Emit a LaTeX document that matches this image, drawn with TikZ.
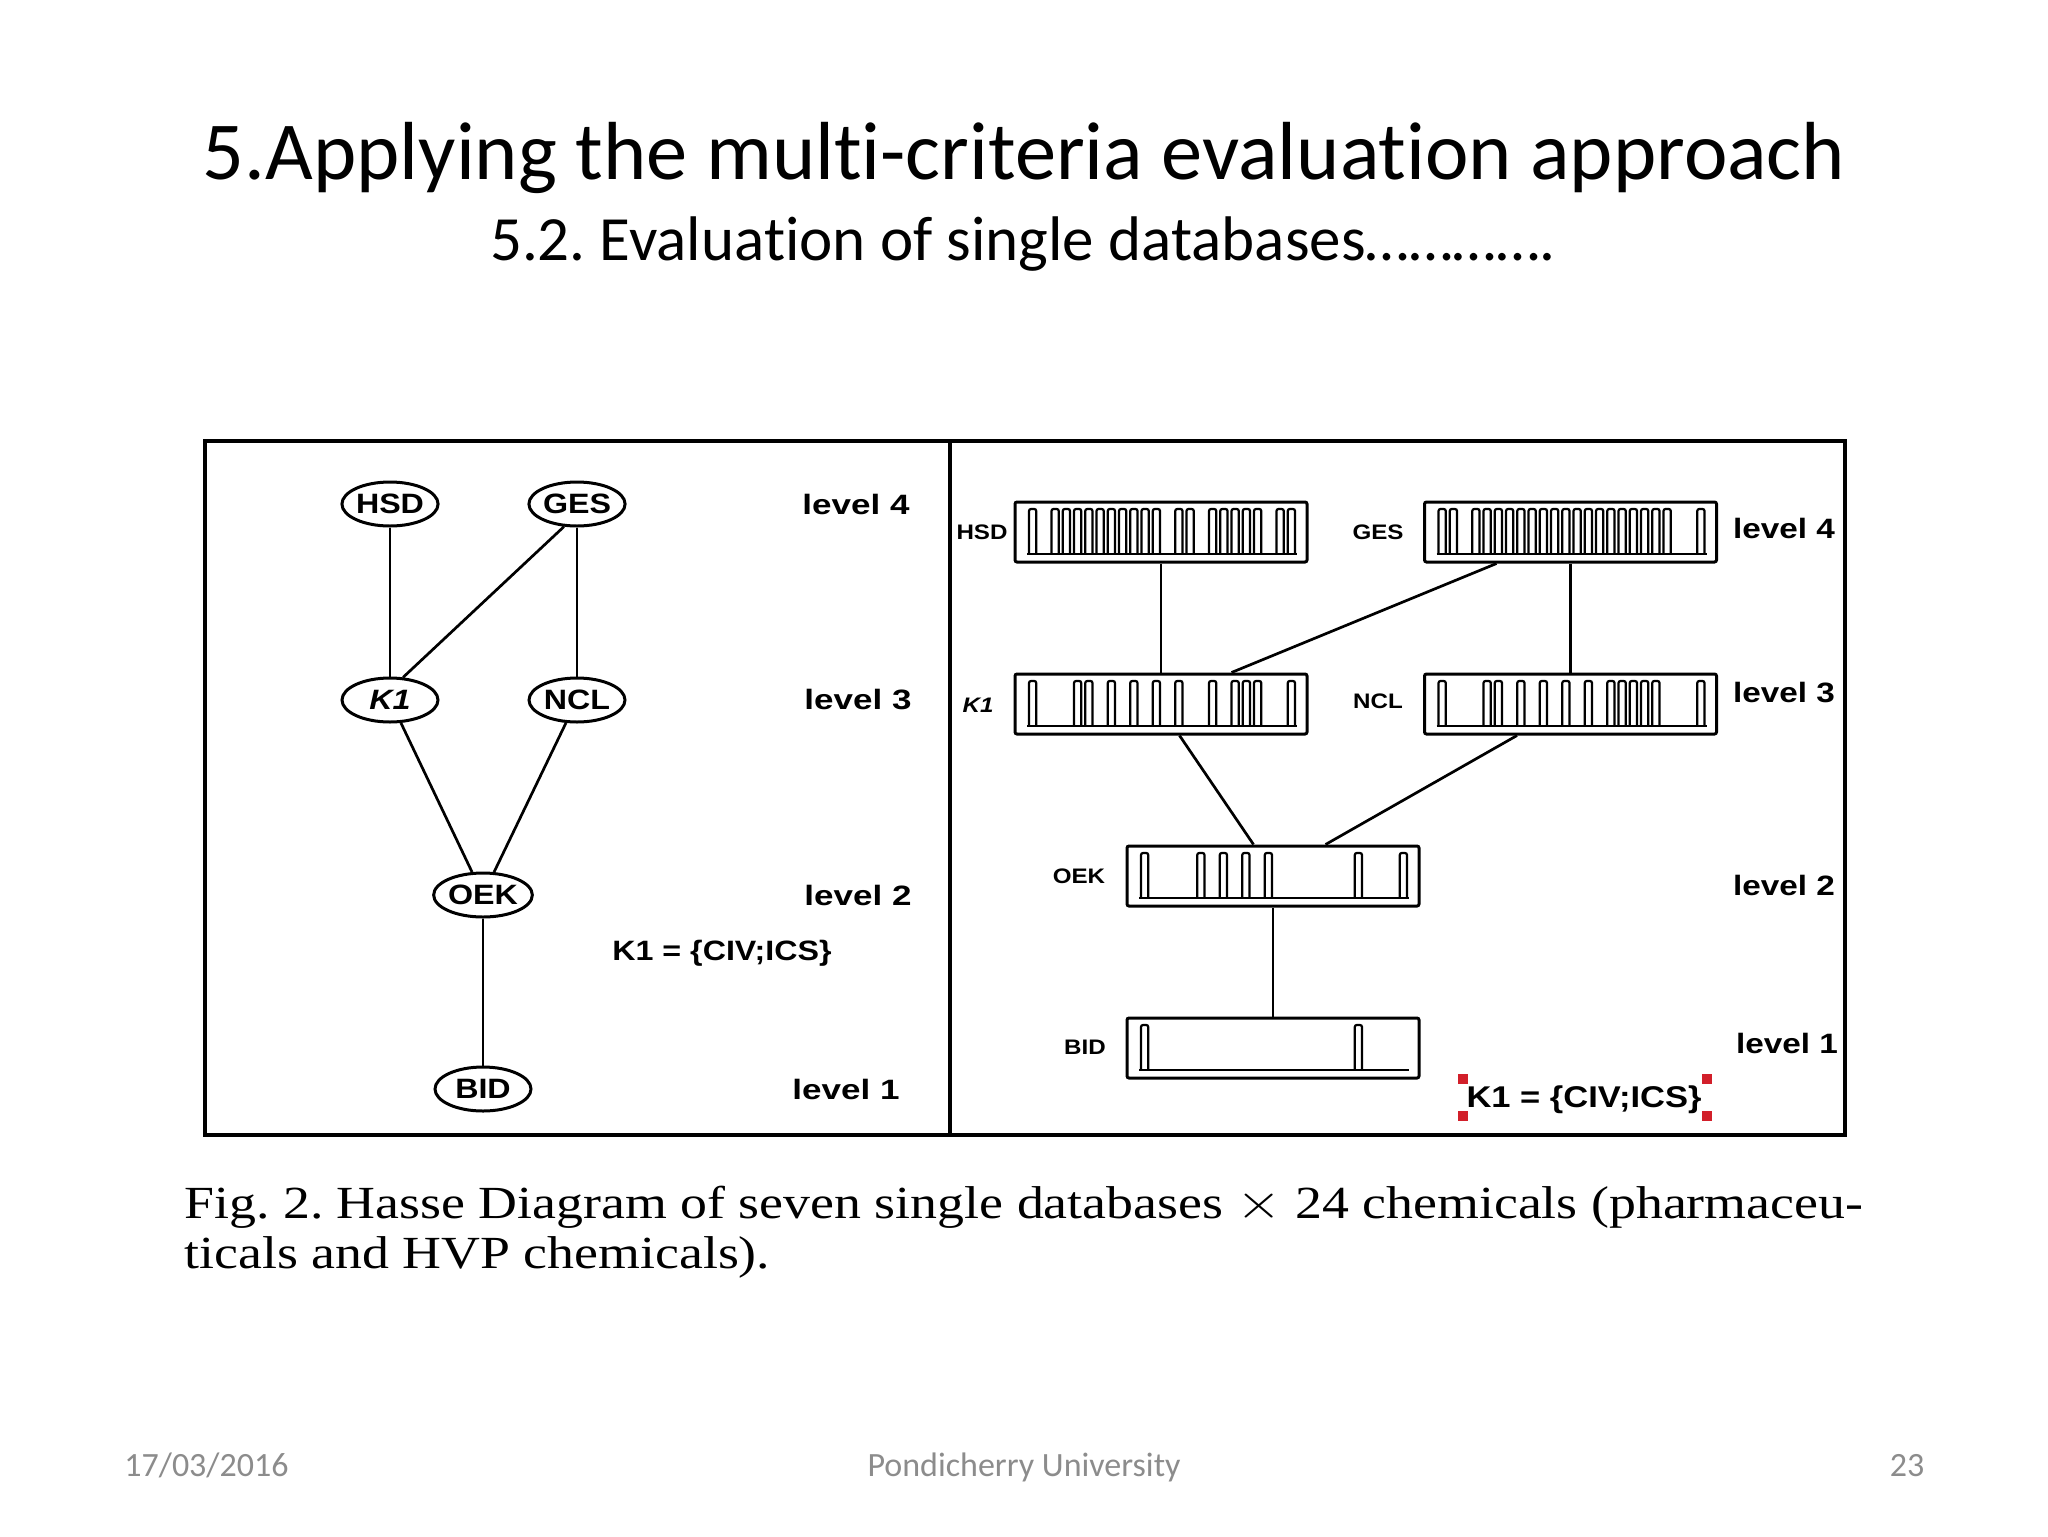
\documentclass[tikz,border=0pt]{standalone}
\usepackage{fontspec}
\setmainfont{Carlito}[Ligatures=NoCommon]
\newfontfamily\hvf{Liberation Sans}
\newfontfamily\tmf{Liberation Serif}
\usetikzlibrary{shapes.geometric}
\definecolor{footgray}{HTML}{8C8C8C}
\definecolor{handred}{HTML}{D21F2A}
\frenchspacing
\newcommand{\dbprofile}[3]{%
  \draw[profl] (#1+12,#2+52) -- (#1+282,#2+52);
  \foreach \v [count=\i from 0] in {#3}{%
    \ifnum\v=1
      \draw[profl,rounded corners=1pt] ({#1+12+\i*11.25+2},{#2+52}) -- ({#1+12+\i*11.25+2},{#2+7}) -- ({#1+12+(\i+1)*11.25-2},{#2+7}) -- ({#1+12+(\i+1)*11.25-2},{#2+52});
    \fi}}
\newcommand{\widetxt}[1]{\scalebox{1.15}[1]{#1}}
\newcommand{\widelvl}[1]{\scalebox{1.25}[1]{#1}}
\newcommand{\widelvr}[1]{\scalebox{1.19}[1]{#1}}
\begin{document}
\begin{tikzpicture}[x=0.5pt,y=-0.5pt,
  hbold/.style={font=\hvf\bfseries\fontsize{14pt}{16pt}\selectfont, inner sep=0},
  hsmall/.style={font=\hvf\bfseries\fontsize{10.5pt}{12pt}\selectfont, inner sep=0},
  ell/.style={draw, ellipse, line width=1.5pt, minimum width=48pt, minimum height=22pt, inner sep=0, hbold},
  dbbox/.style={draw, rectangle, line width=1.5pt, minimum width=146pt, minimum height=30pt, inner sep=0, rounded corners=1pt},
  conn/.style={line width=1.35pt},
  profl/.style={line width=1.1pt},
  handle/.style={fill=handred, draw=none, minimum size=5pt, inner sep=0},
  foot/.style={font=\fontsize{17pt}{20pt}\selectfont, text=footgray, inner sep=0, anchor=base}]
\useasboundingbox (0,0) rectangle (2048,1536);
\fill[white] (0,0) rectangle (2048,1536);

% titles
\node[anchor=base, inner sep=0, font=\fontsize{41.2pt}{48pt}\selectfont] (title) at (1024,179) {5.Applying the multi-criteria evaluation approach};
\node[anchor=base, inner sep=0, font=\fontsize{31.5pt}{36pt}\selectfont] (subtitle) at (1023,260) {5.2. Evaluation of single databases\dots\dots\dots\dots.};

% frame
\draw[line width=2pt] (205,441) rectangle (1845,1135);
\draw[line width=2pt] (950,441) -- (950,1135);

% left Hasse diagram
\node[ell] (eHSD) at (390,504) {\widetxt{HSD}};
\node[ell] (eGES) at (577,504) {\widetxt{GES}};
\node[ell] (eK1) at (390,700) {\widetxt{\itshape K1}};
\node[ell] (eNCL) at (577,700) {\widetxt{NCL}};
\node[ell] (eOEK) at (483,895) {\widetxt{OEK}};
\node[ell] (eBID) at (483,1089) {\widetxt{BID}};
\draw[conn] (eHSD) -- (eK1);
\draw[conn] (eGES.240) -- (eK1.60);
\draw[conn] (eGES) -- (eNCL);
\draw[conn] (eK1) -- (eOEK);
\draw[conn] (eNCL) -- (eOEK);
\draw[conn] (eOEK) -- (eBID);
\node[hbold] (lL4) at (856,504) {\widelvl{level 4}};
\node[hbold] (lL3) at (858,700) {\widelvl{level 3}};
\node[hbold] (lL2) at (858,895) {\widelvl{level 2}};
\node[hbold] (lL1) at (846,1089) {\widelvl{level 1}};
\node[hbold] (lK1) at (722,953) {\widetxt{K1 = \{CIV;ICS\}}};

% right Hasse diagram
\node[dbbox] (bHSD) at (1161,532) {};
\node[dbbox] (bGES) at (1570.5,532) {};
\node[dbbox] (bK1) at (1161,704) {};
\node[dbbox] (bNCL) at (1570.5,704) {};
\node[dbbox] (bOEK) at (1273,876) {};
\node[dbbox] (bBID) at (1273,1048) {};
\dbprofile{1015}{502}{1,0,1,1,1,1,1,1,1,1,1,1,0,1,1,0,1,1,1,1,1,0,1,1}
\dbprofile{1424.5}{502}{1,1,0,1,1,1,1,1,1,1,1,1,1,1,1,1,1,1,1,1,1,0,0,1}
\dbprofile{1015}{674}{1,0,0,0,1,1,0,1,0,1,0,1,0,1,0,0,1,0,1,1,1,0,0,1}
\dbprofile{1424.5}{674}{1,0,0,0,1,1,0,1,0,1,0,1,0,1,0,1,1,1,1,1,0,0,0,1}
\dbprofile{1127}{846}{1,0,0,0,0,1,0,1,0,1,0,1,0,0,0,0,0,0,0,1,0,0,0,1}
\dbprofile{1127}{1018}{1,0,0,0,0,0,0,0,0,0,0,0,0,0,0,0,0,0,0,1,0,0,0,0}
\draw[conn] (bHSD.south) -- (bK1.north);
\draw[conn] ([xshift=36.75pt]bGES.south west) -- ([xshift=109pt]bK1.north west);
\draw[conn] (bGES.south) -- (bNCL.north);
\draw[conn] ([xshift=83pt]bK1.south west) -- ([xshift=64pt]bOEK.north west);
\draw[conn] ([xshift=47pt]bNCL.south west) -- ([xshift=100pt]bOEK.north west);
\draw[conn] (bOEK.south) -- (bBID.north);
\node[hsmall] (tHSD) at (982,532) {\widetxt{HSD}};
\node[hsmall] (tGES) at (1378,532) {\widetxt{GES}};
\node[hsmall] (tK1) at (978,705) {\widetxt{\itshape K1}};
\node[hsmall] (tNCL) at (1378,701) {\widetxt{NCL}};
\node[hsmall] (tOEK) at (1079,876) {\widetxt{OEK}};
\node[hsmall] (tBID) at (1085,1047) {\widetxt{BID}};
\node[hbold] (rL4) at (1784,528) {\widelvr{level 4}};
\node[hbold] (rL3) at (1784,693) {\widelvr{level 3}};
\node[hbold] (rL2) at (1784,885) {\widelvr{level 2}};
\node[hbold] (rL1) at (1787,1043) {\widelvr{level 1}};
\node[hbold, font=\hvf\bfseries\fontsize{15pt}{17pt}\selectfont] (rK1) at (1584,1100) {\widetxt{K1 = \{CIV;ICS\}}};
\node[handle] (h1) at (1463,1079) {};
\node[handle] (h2) at (1463,1116) {};
\node[handle] (h3) at (1707,1079) {};
\node[handle] (h4) at (1707,1116) {};

% caption
\node[anchor=base west, inner sep=0, font=\tmf\fontsize{23pt}{25pt}\selectfont] (cap1) at (184,1218) {\scalebox{1.17}[1]{Fig. 2. Hasse Diagram of seven single databases $\times$ 24 chemicals (pharmaceu-}};
\node[anchor=base west, inner sep=0, font=\tmf\fontsize{23pt}{25pt}\selectfont] (cap2) at (184,1268) {\scalebox{1.17}[1]{ticals and HVP chemicals).}};

% footer
\node[foot, anchor=base west] (fdate) at (124,1476) {17/03/2016};
\node[foot] (funi) at (1024,1476) {Pondicherry University};
\node[foot] (fnum) at (1907,1476) {23};
\end{tikzpicture}
\end{document}
